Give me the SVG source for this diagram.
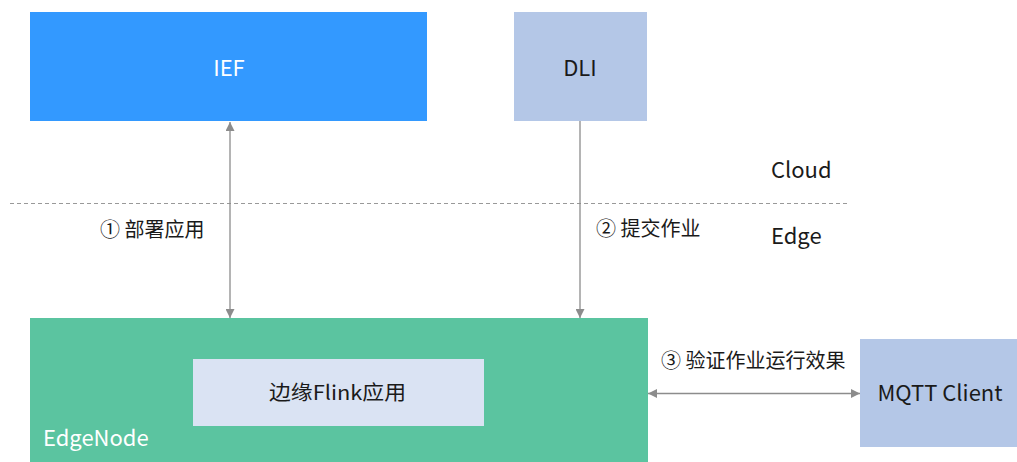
<svg xmlns="http://www.w3.org/2000/svg" width="1017" height="462" viewBox="0 0 1017 462">
<defs>
<style>
text{font-family:"Noto Sans CJK SC","Microsoft YaHei","Noto Sans",sans-serif;font-size:20px;fill:#1a1a1a}
.l{font-size:22px}
.w{fill:#ffffff}
.c{text-anchor:middle}
.ln{stroke:#8c8c8c;stroke-width:1.3;fill:none}
</style>
<marker id="ah" viewBox="0 0 10 10" refX="10" refY="5" markerWidth="9" markerHeight="9" markerUnits="userSpaceOnUse" orient="auto-start-reverse">
<path d="M0,0 L10,5 L0,10 z" fill="#8c8c8c"/>
</marker>
</defs>
<rect width="1017" height="462" fill="#ffffff"/>
<g id="ief"><rect x="30" y="12" width="397" height="109" fill="#3399ff"/><text class="w c l" x="229" y="76">IEF</text></g>
<g id="dli"><rect x="514" y="12" width="133" height="109" fill="#b4c7e7"/><text class="c l" x="580" y="76">DLI</text></g>
<g id="edgenode"><rect x="30" y="318" width="618" height="144" fill="#5bc4a0"/><text class="w l" x="43" y="446">EdgeNode</text></g>
<g id="flink"><rect x="193" y="359" width="291" height="67" fill="#dae3f3"/><text x="269" y="400" textLength="137" lengthAdjust="spacingAndGlyphs">边缘Flink应用</text></g>
<g id="mqtt"><rect x="860" y="339" width="157" height="108" fill="#b4c7e7"/><text class="c l" x="940" y="401">MQTT Client</text></g>
<g id="labels">
<text class="l" x="771" y="178">Cloud</text>
<text class="l" x="771" y="244">Edge</text>
</g>
<g id="connectors">
<line x1="10" y1="203.5" x2="850" y2="203.5" stroke="#999999" stroke-width="1.2" stroke-dasharray="4,3"/>
<line class="ln" x1="230" y1="122" x2="230" y2="318" marker-start="url(#ah)" marker-end="url(#ah)"/>
<line class="ln" x1="580" y1="121" x2="580" y2="318" marker-end="url(#ah)"/>
<line class="ln" x1="648" y1="393.5" x2="860" y2="393.5" marker-start="url(#ah)" marker-end="url(#ah)"/>
<text x="100" y="237">① 部署应用</text>
<text x="596" y="236">② 提交作业</text>
<text x="661" y="368">③ 验证作业运行效果</text>
</g>
</svg>
